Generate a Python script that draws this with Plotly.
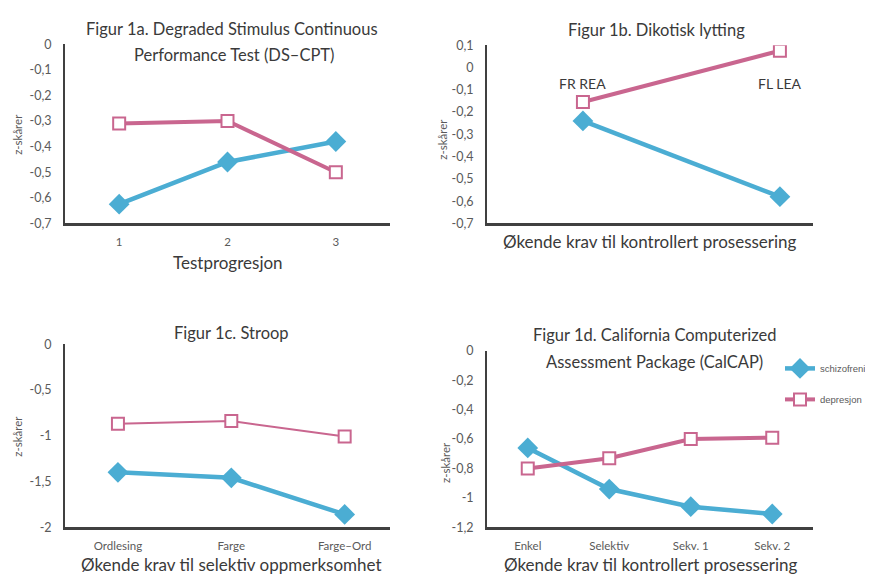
import plotly.graph_objects as go

# ---------------- data ----------------
cat_a = ["1", "2", "3"]
schizo_a = [-0.625, -0.46, -0.38]
depr_a = [-0.31, -0.30, -0.50]

cat_b = ["FR REA", "FL LEA"]
schizo_b = [-0.24, -0.58]
depr_b = [-0.155, 0.075]

cat_c = ["Ordlesing", "Farge", "Farge–Ord"]
schizo_c = [-1.40, -1.46, -1.86]
depr_c = [-0.87, -0.84, -1.01]

cat_d = ["Enkel", "Selektiv", "Sekv. 1", "Sekv. 2"]
schizo_d = [-0.66, -0.94, -1.06, -1.11]
depr_d = [-0.80, -0.73, -0.60, -0.59]

ytick_a = [0, -0.1, -0.2, -0.3, -0.4, -0.5, -0.6, -0.7]
ytext_a = ["0", "-0,1", "-0,2", "-0,3", "-0,4", "-0,5", "-0,6", "-0,7"]
ytick_b = [0.1, 0, -0.1, -0.2, -0.3, -0.4, -0.5, -0.6, -0.7]
ytext_b = ["0,1", "0", "-0,1", "-0,2", "-0,3", "-0,4", "-0,5", "-0,6", "-0,7"]
ytick_c = [0, -0.5, -1, -1.5, -2]
ytext_c = ["0", "-0,5", "-1", "-1,5", "-2"]
ytick_d = [0, -0.2, -0.4, -0.6, -0.8, -1, -1.2]
ytext_d = ["0", "-0,2", "-0,4", "-0,6", "-0,8", "-1", "-1,2"]

names = ["schizofreni", "depresjon"]

# ---------------- style ----------------
BLUE = "#4BADD3"
PINK = "#C9668F"
AXC = "#404040"
TXT = "#3a3a3a"
TICK = "#5a5a5a"
FONT = "Lato"
OX, OY = 8, 8          # page body margin
FW, FH = 865, 572      # figure size


def px(x):
    return (x - OX) / FW


def py(y):
    return 1 - (y - OY) / FH


fig = go.Figure()


def add_panel(cats, s, d, xa, ya, legend, pink_w=4):
    fig.add_trace(go.Scatter(
        x=cats, y=s, mode="lines+markers", name=names[0],
        line=dict(color=BLUE, width=4.5),
        marker=dict(symbol="diamond", size=16, color=BLUE),
        xaxis=xa, yaxis=ya, showlegend=legend, legendgroup="s"))
    fig.add_trace(go.Scatter(
        x=cats, y=d, mode="lines+markers", name=names[1],
        line=dict(color=PINK, width=pink_w),
        marker=dict(symbol="square", size=12, color="white",
                    line=dict(color=PINK, width=2)),
        xaxis=xa, yaxis=ya, showlegend=legend, legendgroup="d"))


add_panel(cat_a, schizo_a, depr_a, "x", "y", False)
add_panel(cat_b, schizo_b, depr_b, "x2", "y2", False)
add_panel(cat_c, schizo_c, depr_c, "x3", "y3", False, pink_w=2)
add_panel(cat_d, schizo_d, depr_d, "x4", "y4", True)

dom_xl = [px(65), px(390)]
dom_xr = [px(487), px(813)]

xcommon = dict(showgrid=False, zeroline=False, showline=True, linecolor=AXC,
               linewidth=2.5, ticks="outside", ticklen=6,
               tickcolor="rgba(0,0,0,0)", type="category",
               tickfont=dict(family=FONT, size=11.5, color=TICK))
ycommon = dict(showgrid=False, zeroline=False, showline=True, linecolor=AXC,
               linewidth=1.8, ticks="outside", ticklen=9,
               tickcolor="rgba(0,0,0,0)",
               tickfont=dict(family=FONT, size=12.5, color=TICK))

fig.update_layout(
    xaxis=dict(**xcommon, domain=dom_xl, range=[-0.5, 2.5], anchor="y"),
    yaxis=dict(**ycommon, domain=[py(221), py(37)], range=[-0.7, 0],
               tickvals=ytick_a, ticktext=ytext_a, anchor="x"),
    xaxis2=dict(**xcommon, domain=dom_xr, range=[-0.487, 1.168],
                showticklabels=False, anchor="y2"),
    yaxis2=dict(**ycommon, domain=[py(221), py(38)], range=[-0.7, 0.1],
                tickvals=ytick_b, ticktext=ytext_b, anchor="x2"),
    xaxis3=dict(**xcommon, domain=dom_xl, range=[-0.467, 2.40], anchor="y3"),
    yaxis3=dict(**ycommon, domain=[py(533), py(345)], range=[-2, 0],
                tickvals=ytick_c, ticktext=ytext_c, anchor="x3"),
    xaxis4=dict(**xcommon, domain=dom_xr, range=[-0.5, 3.5], anchor="y4"),
    yaxis4=dict(**ycommon, domain=[py(533), py(352)], range=[-1.2, 0],
                tickvals=ytick_d, ticktext=ytext_d, anchor="x4"),
    width=FW, height=FH, autosize=False,
    margin=dict(l=0, r=0, t=0, b=0),
    paper_bgcolor="white", plot_bgcolor="white",
    font=dict(family=FONT, color=TXT),
    legend=dict(x=px(780), xanchor="left", y=py(355), yanchor="top",
                font=dict(family="Liberation Sans", size=9.5, color=TICK),
                itemwidth=30, tracegroupgap=12, bgcolor="rgba(0,0,0,0)",
                entrywidth=88, entrywidthmode="pixels"),
)

ann = [
    ("Figur 1a. Degraded Stimulus Continuous", 232, 21, 16.5),
    ("Performance Test (DS–CPT)", 235, 48, 16.5),
    ("Figur 1b. Dikotisk lytting", 656, 22, 16.5),
    ("Figur 1c. Stroop", 232, 334, 16.5),
    ("Figur 1d. California Computerized", 654, 336, 16.5),
    ("Assessment Package (CalCAP)", 654, 363, 16.5),
    ("Testprogresjon", 228, 261, 17),
    ("Økende krav til kontrollert prosessering", 650, 240, 17),
    ("Økende krav til selektiv oppmerksomhet", 232, 571, 17),
    ("Økende krav til kontrollert prosessering", 651, 571, 17),
]
for t, x, y, s in ann:
    fig.add_annotation(text=t, x=px(x), y=py(y), xref="paper", yref="paper",
                       showarrow=False, xanchor="center", yanchor="middle",
                       font=dict(family=FONT, size=s, color=TXT))

for x, y in [(18, 130), (443, 135), (18, 440), (446, 467)]:
    fig.add_annotation(text="z-skårer", x=px(x), y=py(y), xref="paper",
                       yref="paper", showarrow=False, textangle=-90,
                       xanchor="center", yanchor="middle",
                       font=dict(family=FONT, size=11.5, color=TICK))

for c in cat_b:
    fig.add_annotation(text=c, x=c, y=-0.07, xref="x2", yref="y2",
                       showarrow=False, xanchor="center", yanchor="middle",
                       font=dict(family=FONT, size=14, color=TXT))

fig.write_html("out.html")
